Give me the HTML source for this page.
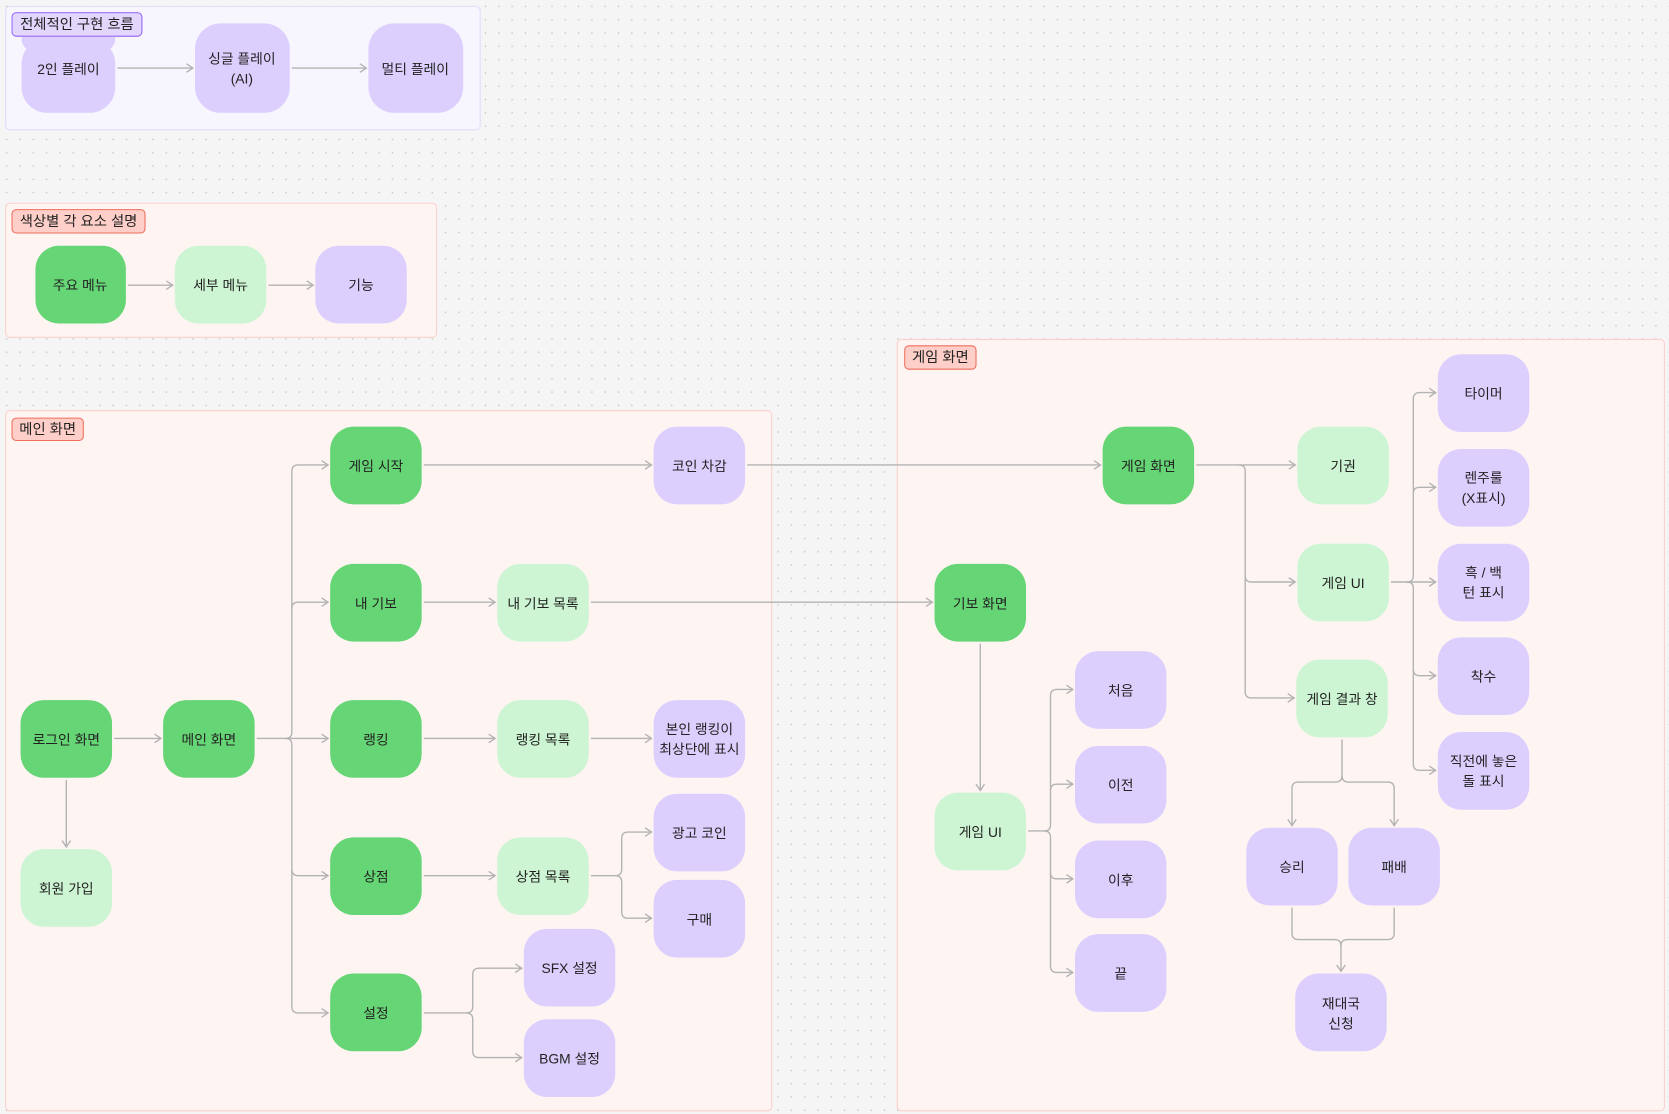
<!DOCTYPE html>
<html><head><meta charset="utf-8"><style>
html,body{margin:0;padding:0;background:#f5f5f5;}
svg{display:block;}
text{font-family:"Liberation Sans","Noto Sans CJK KR",sans-serif;font-size:13px;fill:#222;text-anchor:middle;dominant-baseline:central;}
.c{fill:none;stroke:#b3b3b3;stroke-width:1.3;}
.g{fill:#66d575}.l{fill:#cdf5d3}.p{fill:#dccffd}
</style></head><body>
<svg width="1669" height="1114" viewBox="0 0 1568 1047" xmlns="http://www.w3.org/2000/svg">
<defs>
<pattern id="d" width="12.5" height="12.5" patternUnits="userSpaceOnUse"><circle cx="6" cy="6" r="0.8" fill="#c8c8c8"/></pattern>
<marker id="a" markerWidth="10" markerHeight="10" refX="8" refY="5" orient="auto" markerUnits="userSpaceOnUse"><path d="M2,1 L8,5 L2,9" fill="none" stroke="#b3b3b3" stroke-width="1.3"/></marker>
</defs>
<rect width="1568" height="1047" fill="#f5f5f5"/>
<rect width="1568" height="1047" fill="url(#d)"/>

<!-- groups -->
<rect x="5" y="6" width="446" height="116" rx="4" fill="#f7f5fe" stroke="#e2dafb"/>
<rect x="5" y="191" width="405" height="126" rx="4" fill="#fef5f3" stroke="#fbd0cb"/>
<rect x="5" y="386" width="720" height="658" rx="4" fill="#fef5f3" stroke="#fbd0cb"/>
<rect x="843" y="319" width="721" height="725" rx="4" fill="#fef5f3" stroke="#fbd0cb"/>

<!-- connectors -->
<g class="c">
<path d="M110,64H181" marker-end="url(#a)"/>
<path d="M274,64H344" marker-end="url(#a)"/>
<path d="M120,268H162" marker-end="url(#a)"/>
<path d="M252,268H294" marker-end="url(#a)"/>
<path d="M107,694H151" marker-end="url(#a)"/>
<path d="M62,733V796" marker-end="url(#a)"/>
<path d="M241,694H308" marker-end="url(#a)"/>
<path d="M268,694Q274,694 274,688V443Q274,437 280,437H308" marker-end="url(#a)"/>
<path d="M274,572Q274,566 280,566H308" marker-end="url(#a)"/>
<path d="M268,694Q274,694 274,700V946Q274,952 280,952H308" marker-end="url(#a)"/>
<path d="M274,817Q274,823 280,823H308" marker-end="url(#a)"/>
<path d="M398,437H612" marker-end="url(#a)"/>
<path d="M398,566H465" marker-end="url(#a)"/>
<path d="M398,694H465" marker-end="url(#a)"/>
<path d="M398,823H465" marker-end="url(#a)"/>
<path d="M555,694H612" marker-end="url(#a)"/>
<path d="M555,823H578Q584,823 584,817V788Q584,782 590,782H612" marker-end="url(#a)"/>
<path d="M578,823Q584,823 584,829V857Q584,863 590,863H612" marker-end="url(#a)"/>
<path d="M398,952H438Q444,952 444,946V916Q444,910 450,910H490" marker-end="url(#a)"/>
<path d="M438,952Q444,952 444,958V988Q444,994 450,994H490" marker-end="url(#a)"/>
<path d="M702,437H1034" marker-end="url(#a)"/>
<path d="M555,566H876" marker-end="url(#a)"/>
<path d="M921,605V743" marker-end="url(#a)"/>
<path d="M1124,437H1217" marker-end="url(#a)"/>
<path d="M1164,437Q1170,437 1170,443V541Q1170,547 1176,547H1217" marker-end="url(#a)"/>
<path d="M1170,541V650Q1170,656 1176,656H1216" marker-end="url(#a)"/>
<path d="M1307,547H1349" marker-end="url(#a)"/>
<path d="M1322,547Q1328,547 1328,541V375Q1328,369 1334,369H1349" marker-end="url(#a)"/>
<path d="M1328,464Q1328,458 1334,458H1349" marker-end="url(#a)"/>
<path d="M1322,547Q1328,547 1328,553V718Q1328,724 1334,724H1349" marker-end="url(#a)"/>
<path d="M1328,629Q1328,635 1334,635H1349" marker-end="url(#a)"/>
<path d="M966,781H981Q987,781 987,775V654Q987,648 993,648H1008" marker-end="url(#a)"/>
<path d="M987,743Q987,737 993,737H1008" marker-end="url(#a)"/>
<path d="M981,781Q987,781 987,787V908Q987,914 993,914H1008" marker-end="url(#a)"/>
<path d="M987,820Q987,826 993,826H1008" marker-end="url(#a)"/>
<path d="M1261,695V729Q1261,735 1255,735H1220Q1214,735 1214,741V776" marker-end="url(#a)"/>
<path d="M1261,729Q1261,735 1267,735H1304Q1310,735 1310,741V776" marker-end="url(#a)"/>
<path d="M1214,853V877Q1214,883 1220,883H1254Q1260,883 1260,889V913" marker-end="url(#a)"/>
<path d="M1310,853V877Q1310,883 1304,883H1266Q1260,883 1260,889"/>
</g>

<!-- group labels -->
<rect x="11" y="12" width="122" height="22" rx="4" fill="#e2d6fd" stroke="#9c6ef5"/>
<text x="72" y="23.5" style="font-size:13.5px">전체적인 구현 흐름</text>
<rect x="11" y="197" width="125" height="22" rx="4" fill="#fdcfc8" stroke="#f06e5c"/>
<text x="73.5" y="208.5" style="font-size:13.5px">색상별 각 요소 설명</text>
<rect x="11" y="393" width="67" height="21" rx="4" fill="#fdcfc8" stroke="#f06e5c"/>
<text x="44.5" y="404" style="font-size:13.5px">메인 화면</text>
<rect x="850" y="325" width="67" height="22" rx="4" fill="#fdcfc8" stroke="#f06e5c"/>
<text x="883.5" y="336.5" style="font-size:13.5px">게임 화면</text>

<!-- nodes -->
<g>
<rect class="p" x="20" y="36" width="88" height="70" rx="24"/><text x="64" y="65">2인 플레이</text>
<rect class="p" x="183" y="22" width="89" height="84" rx="24"/><text x="227" y="55">싱글 플레이</text><text x="227" y="74">(AI)</text>
<rect class="p" x="346" y="22" width="89" height="84" rx="24"/><text x="390" y="65">멀티 플레이</text>
<rect x="20" y="22" width="0" height="0"/>

<rect class="g" x="33" y="231" width="85" height="73" rx="22"/><text x="75" y="268">주요 메뉴</text>
<rect class="l" x="164" y="231" width="86" height="73" rx="22"/><text x="207" y="268">세부 메뉴</text>
<rect class="p" x="296" y="231" width="86" height="73" rx="22"/><text x="339" y="268">기능</text>

<rect class="g" x="310" y="401" width="86" height="73" rx="22"/><text x="353" y="438">게임 시작</text>
<rect class="p" x="614" y="401" width="86" height="73" rx="22"/><text x="657" y="438">코인 차감</text>
<rect class="g" x="310" y="530" width="86" height="73" rx="22"/><text x="353" y="567">내 기보</text>
<rect class="l" x="467" y="530" width="86" height="73" rx="22"/><text x="510" y="567">내 기보 목록</text>
<rect class="g" x="19" y="658" width="86" height="73" rx="22"/><text x="62" y="695">로그인 화면</text>
<rect class="g" x="153" y="658" width="86" height="73" rx="22"/><text x="196" y="695">메인 화면</text>
<rect class="g" x="310" y="658" width="86" height="73" rx="22"/><text x="353" y="695">랭킹</text>
<rect class="l" x="467" y="658" width="86" height="73" rx="22"/><text x="510" y="695">랭킹 목록</text>
<rect class="p" x="614" y="658" width="86" height="73" rx="22"/><text x="657" y="685">본인 랭킹이</text><text x="657" y="704">최상단에 표시</text>
<rect class="l" x="19" y="798" width="86" height="73" rx="22"/><text x="62" y="835">회원 가입</text>
<rect class="g" x="310" y="787" width="86" height="73" rx="22"/><text x="353" y="824">상점</text>
<rect class="l" x="467" y="787" width="86" height="73" rx="22"/><text x="510" y="824">상점 목록</text>
<rect class="p" x="614" y="746" width="86" height="73" rx="22"/><text x="657" y="783">광고 코인</text>
<rect class="p" x="614" y="827" width="86" height="73" rx="22"/><text x="657" y="864">구매</text>
<rect class="g" x="310" y="915" width="86" height="73" rx="22"/><text x="353" y="952">설정</text>
<rect class="p" x="492" y="873" width="86" height="73" rx="22"/><text x="535" y="910">SFX 설정</text>
<rect class="p" x="492" y="958" width="86" height="73" rx="22"/><text x="535" y="995">BGM 설정</text>

<rect class="g" x="1036" y="401" width="86" height="73" rx="22"/><text x="1079" y="438">게임 화면</text>
<rect class="l" x="1219" y="401" width="86" height="73" rx="22"/><text x="1262" y="438">기권</text>
<rect class="l" x="1219" y="511" width="86" height="73" rx="22"/><text x="1262" y="548">게임 UI</text>
<rect class="l" x="1218" y="620" width="86" height="73" rx="22"/><text x="1261" y="657">게임 결과 창</text>
<rect class="p" x="1351" y="333" width="86" height="73" rx="22"/><text x="1394" y="370">타이머</text>
<rect class="p" x="1351" y="422" width="86" height="73" rx="22"/><text x="1394" y="449">렌주룰</text><text x="1394" y="468">(X표시)</text>
<rect class="p" x="1351" y="511" width="86" height="73" rx="22"/><text x="1394" y="538">흑 / 백</text><text x="1394" y="557">턴 표시</text>
<rect class="p" x="1351" y="599" width="86" height="73" rx="22"/><text x="1394" y="636">착수</text>
<rect class="p" x="1351" y="688" width="86" height="73" rx="22"/><text x="1394" y="715">직전에 놓은</text><text x="1394" y="734">돌 표시</text>
<rect class="g" x="878" y="530" width="86" height="73" rx="22"/><text x="921" y="567">기보 화면</text>
<rect class="l" x="878" y="745" width="86" height="73" rx="22"/><text x="921" y="782">게임 UI</text>
<rect class="p" x="1010" y="612" width="86" height="73" rx="22"/><text x="1053" y="649">처음</text>
<rect class="p" x="1010" y="701" width="86" height="73" rx="22"/><text x="1053" y="738">이전</text>
<rect class="p" x="1010" y="790" width="86" height="73" rx="22"/><text x="1053" y="827">이후</text>
<rect class="p" x="1010" y="878" width="86" height="73" rx="22"/><text x="1053" y="915">끝</text>
<rect class="p" x="1171" y="778" width="86" height="73" rx="22"/><text x="1214" y="815">승리</text>
<rect class="p" x="1267" y="778" width="86" height="73" rx="22"/><text x="1310" y="815">패배</text>
<rect class="p" x="1217" y="915" width="86" height="73" rx="22"/><text x="1260" y="943">재대국</text><text x="1260" y="962">신청</text>
</g>
<!-- redraw label over 2인 node overlap -->
<rect x="20" y="22" width="88" height="30" rx="24" class="p"/>
<rect x="11" y="12" width="122" height="22" rx="4" fill="#e2d6fd" stroke="#9c6ef5"/>
<text x="72" y="23.5" style="font-size:13.5px">전체적인 구현 흐름</text>
</svg>
</body></html>
